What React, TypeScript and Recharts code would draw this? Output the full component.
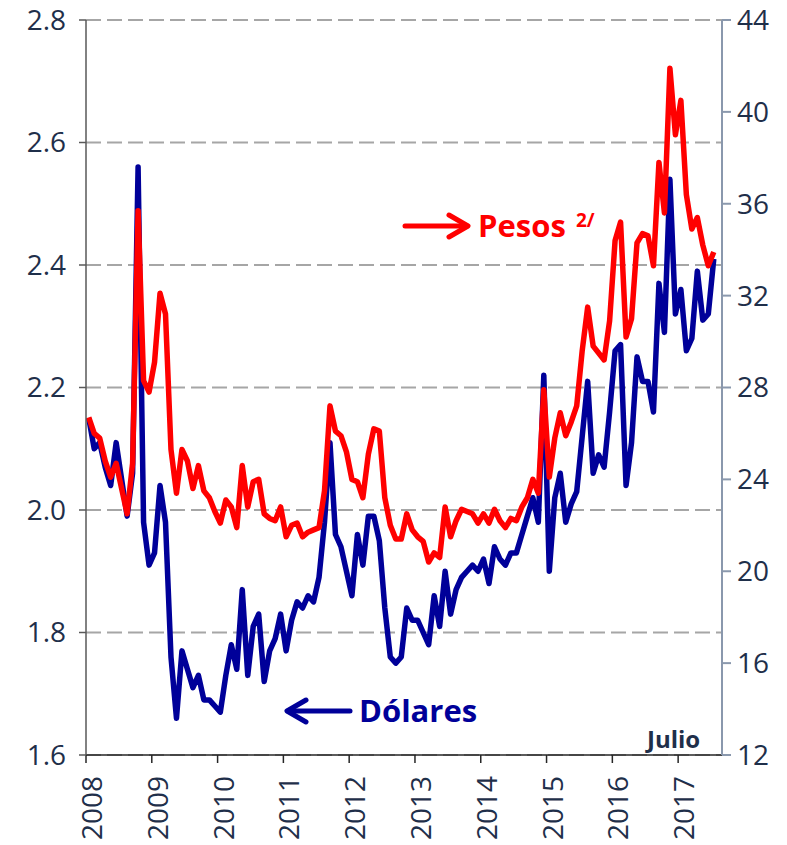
import React from 'react';
import { LineChart, Line, XAxis, YAxis, CartesianGrid, Customized } from 'recharts';

// Datos mensuales, enero 2008 - julio 2017
const dolares = [
  2.15, 2.10, 2.11, 2.07, 2.04, 2.11, 2.05, 1.99, 2.06, 2.56,
  1.98, 1.91, 1.93, 2.04, 1.98, 1.76, 1.66, 1.77, 1.74, 1.71,
  1.73, 1.69, 1.69, 1.68, 1.67, 1.73, 1.78, 1.74, 1.87, 1.73,
  1.81, 1.83, 1.72, 1.77, 1.79, 1.83, 1.77, 1.82, 1.85, 1.84,
  1.86, 1.85, 1.89, 1.98, 2.11, 1.96, 1.94, 1.90, 1.86, 1.96,
  1.91, 1.99, 1.99, 1.95, 1.84, 1.76, 1.75, 1.76, 1.84, 1.82,
  1.82, 1.80, 1.78, 1.86, 1.81, 1.90, 1.83, 1.87, 1.89, 1.90,
  1.91, 1.90, 1.92, 1.88, 1.94, 1.92, 1.91, 1.93, 1.93, 1.96,
  1.99, 2.02, 1.98, 2.22, 1.90, 2.02, 2.06, 1.98, 2.01, 2.03,
  2.12, 2.21, 2.06, 2.09, 2.07, 2.16, 2.26, 2.27, 2.04, 2.11,
  2.25, 2.21, 2.21, 2.16, 2.37, 2.29, 2.54, 2.32, 2.36, 2.26,
  2.28, 2.39, 2.31, 2.32, 2.41,
];

const pesos = [
  26.7, 26.0, 25.8, 24.8, 24.1, 24.7, 23.6, 22.5, 24.7, 35.7,
  28.3, 27.8, 29.1, 32.1, 31.2, 25.3, 23.4, 25.3, 24.8, 23.6,
  24.6, 23.5, 23.2, 22.6, 22.1, 23.1, 22.8, 21.9, 24.6, 22.8,
  23.9, 24.0, 22.5, 22.3, 22.2, 22.8, 21.5, 22.0, 22.1, 21.5,
  21.7, 21.8, 21.9, 23.5, 27.2, 26.1, 25.9, 25.2, 24.0, 23.9,
  23.2, 25.1, 26.2, 26.1, 23.2, 22.0, 21.4, 21.4, 22.5, 21.8,
  21.5, 21.3, 20.4, 20.8, 20.6, 22.8, 21.5, 22.2, 22.7, 22.6,
  22.5, 22.1, 22.5, 22.1, 22.7, 22.2, 21.9, 22.3, 22.2, 22.8,
  23.2, 24.0, 23.4, 27.9, 24.1, 25.8, 26.9, 25.9, 26.5, 27.2,
  29.6, 31.5, 29.8, 29.5, 29.2, 30.9, 34.4, 35.2, 30.2, 31.0,
  34.3, 34.7, 34.6, 33.3, 37.8, 35.6, 41.9, 39.0, 40.5, 36.4,
  34.9, 35.4, 34.2, 33.3, 33.9,
];

const years = ['2008', '2009', '2010', '2011', '2012', '2013', '2014', '2015', '2016', '2017'];
const leftTicks = [1.6, 1.8, 2.0, 2.2, 2.4, 2.6, 2.8];
const rightTicks = [12, 16, 20, 24, 28, 32, 36, 40, 44];

// months centred in their slot, 116 slots on the axis
const data = dolares.map((d, i) => ({ x: i + 0.5, dolares: d, pesos: pesos[i] }));
const yearTicks = years.map((_, i) => i * 12);

const FONT = "'Open Sans', sans-serif";
const INK = '#1f2f4a';
const TICK_SIZE = 28;

const YearTick = (props: any) => {
  const { x, y, payload } = props;
  const label = years[Math.round(payload.value / 12)];
  const tx = x + 16;
  return (
    <text
      x={tx}
      y={y}
      transform={`rotate(-90, ${tx}, ${y})`}
      textAnchor="end"
      fill={INK}
      fontSize={TICK_SIZE}
      fontFamily={FONT}
    >
      {label}
    </text>
  );
};

const Annotations = () => (
  <g fontFamily={FONT} fontWeight="bold">
    <g stroke="#ff0000" strokeWidth={5} strokeLinecap="round" strokeLinejoin="round" fill="none">
      <line x1={405} y1={226} x2={467} y2={226} />
      <polyline points="449,215 468,226 449,237" />
    </g>
    <text x={478} y={237} fill="#ff0000" fontSize={31}>Pesos</text>
    <text x={576} y={227} fill="#ff0000" fontSize={19}>2/</text>

    <g stroke="#000099" strokeWidth={5} strokeLinecap="round" strokeLinejoin="round" fill="none">
      <line x1={288} y1={711} x2={350} y2={711} />
      <polyline points="306,700 287,711 306,722" />
    </g>
    <text x={359} y={722} fill="#000099" fontSize={31}>Dólares</text>

    <text x={647} y={748} fill={INK} fontSize={24}>Julio</text>
  </g>
);

export default function App() {
  return (
    <div style={{ position: 'absolute', left: 0, top: 0, background: '#fff' }}>
      <LineChart
        width={787}
        height={845}
        data={data}
        margin={{ top: 20, right: 0, bottom: 0, left: 0 }}
        style={{ fontFamily: FONT }}
      >
        <CartesianGrid
          yAxisId="left"
          vertical={false}
          stroke="#a6a6a6"
          strokeWidth={2}
          strokeDasharray="15 6"
        />
        <XAxis
          dataKey="x"
          type="number"
          domain={[0, 116]}
          ticks={yearTicks}
          interval={0}
          height={90}
          tickSize={8}
          tickMargin={13}
          axisLine={{ stroke: '#262626', strokeWidth: 1.5 }}
          tickLine={{ stroke: '#262626', strokeWidth: 1.5 }}
          tick={<YearTick />}
        />
        <YAxis
          yAxisId="left"
          orientation="left"
          width={86}
          domain={[1.6, 2.8]}
          ticks={leftTicks}
          interval={0}
          tickSize={7}
          tickMargin={13}
          tickFormatter={(v: number) => v.toFixed(1)}
          axisLine={{ stroke: '#595959', strokeWidth: 1.5 }}
          tickLine={{ stroke: '#595959', strokeWidth: 1.5 }}
          tick={{ fill: INK, fontSize: TICK_SIZE, fontFamily: FONT }}
        />
        <YAxis
          yAxisId="right"
          orientation="right"
          width={65}
          domain={[12, 44]}
          ticks={rightTicks}
          interval={0}
          tickSize={9}
          tickMargin={6}
          axisLine={{ stroke: '#8a98ad', strokeWidth: 2 }}
          tickLine={{ stroke: '#8a98ad', strokeWidth: 2 }}
          tick={{ fill: INK, fontSize: TICK_SIZE, fontFamily: FONT }}
        />
        <Line
          yAxisId="left"
          dataKey="dolares"
          type="linear"
          stroke="#000099"
          strokeWidth={5.5}
          strokeLinejoin="round"
          dot={false}
          isAnimationActive={false}
        />
        <Line
          yAxisId="right"
          dataKey="pesos"
          type="linear"
          stroke="#ff0000"
          strokeWidth={5.5}
          strokeLinejoin="round"
          dot={false}
          isAnimationActive={false}
        />
        <Customized component={Annotations} />
      </LineChart>
    </div>
  );
}
